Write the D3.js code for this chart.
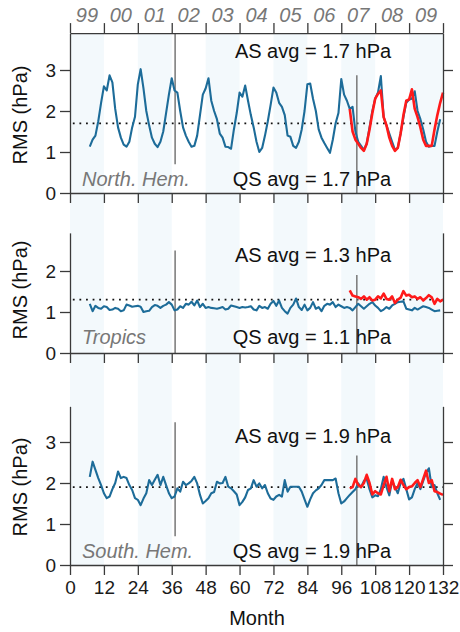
<!DOCTYPE html>
<html><head><meta charset="utf-8">
<script src="https://cdn.jsdelivr.net/npm/d3@7"></script>
<style>
body{margin:0;background:#fff}
svg{display:block;font-family:"Liberation Sans",Arial,Helvetica,sans-serif}
</style>
</head><body>
<svg id="chart" width="460" height="632"></svg>
<script>
// ---------------- data ----------------
const yearLabels = ["99","00","01","02","03","04","05","06","07","08","09"];
const monthTicks = [0,12,24,36,48,60,72,84,96,108,120,132];
const shadedYearIdx = [0,2,4,6,8,10];
const panelNames = ["North. Hem.","Tropics","South. Hem."];
const panelYMax = [3.9, 2.93, 3.87];
const panelYTicks = [[0,1,2,3],[0,1,2],[0,1,2,3]];
const asAvg = [1.7, 1.3, 1.9];
const qsAvg = [1.7, 1.1, 1.9];
const qsStartMonth = 7;
const asStartMonth = 99;
const markerMonths = [37.2, 101.5];
const markerExtents = [
  [[0.7, 3.9], [0, 2.87]],
  [[0, 2.5], [0, 1.9]],
  [[0.7, 3.48], [0, 2.67]]
];

// QS series (blue), months 7..131
const nhQS = [
  1.13,1.30,1.40,1.75,2.20,2.60,2.50,2.87,2.70,2.05,
  1.60,1.35,1.18,1.13,1.25,1.60,1.86,2.65,3.02,2.55,
  2.00,1.65,1.35,1.20,1.12,1.25,1.50,1.95,2.40,2.80,
  2.50,2.45,2.00,1.60,1.40,1.25,1.13,1.15,1.40,1.90,
  2.40,2.55,2.80,2.25,2.00,1.80,1.45,1.35,1.13,1.12,
  1.08,1.55,1.95,2.45,2.35,2.62,2.25,1.90,1.60,1.25,
  1.00,1.10,1.40,1.75,2.15,2.57,2.45,2.20,2.10,1.90,
  1.40,1.37,1.15,1.10,1.25,1.55,2.00,2.65,2.67,2.30,
  2.00,1.55,1.35,1.22,1.10,0.98,1.30,1.70,1.95,2.78,
  2.40,2.25,2.05,2.10,1.50,1.25,1.15,1.05,1.20,1.60,
  2.00,2.30,2.45,2.85,1.85,1.65,1.45,1.25,1.05,1.10,
  1.45,1.85,2.20,2.28,2.30,2.48,2.00,1.80,1.55,1.25,
  1.13,1.15,1.15,1.50,1.80
];
const trQS = [
  1.20,1.02,1.15,1.10,1.08,1.14,1.12,1.05,1.06,1.10,
  1.08,1.02,1.04,1.18,1.16,1.13,1.14,1.15,1.13,1.00,
  1.02,1.03,1.12,1.17,1.15,1.10,1.15,1.18,1.24,1.18,
  1.04,1.06,1.14,1.10,1.20,1.18,1.25,1.16,1.28,1.12,
  1.20,1.10,1.12,1.10,1.09,1.08,1.10,1.12,1.06,1.08,
  1.16,1.14,1.12,1.10,1.12,1.11,1.12,1.14,1.06,1.04,
  1.15,1.10,1.12,1.08,1.20,1.27,1.15,1.28,1.10,1.02,
  0.96,1.10,1.18,1.33,1.12,1.05,1.18,1.04,1.10,1.24,
  1.08,1.12,1.02,1.15,1.20,1.18,1.24,1.12,1.18,1.14,
  1.10,1.12,1.10,1.04,1.12,1.20,1.14,1.08,1.14,1.20,
  1.24,1.16,1.10,1.02,1.06,1.12,1.08,1.16,1.20,1.24,
  1.25,1.26,1.08,1.06,1.04,1.10,1.06,1.10,1.14,1.12,
  1.10,1.06,1.02,1.03,1.04
];
const shQS = [
  2.15,2.52,2.32,2.12,1.95,1.75,1.63,1.67,1.85,2.00,
  2.28,2.12,2.15,2.12,1.95,1.83,1.63,1.59,1.46,1.62,
  1.75,2.07,1.95,2.08,2.20,1.95,2.15,1.95,1.75,1.63,
  1.67,1.87,1.79,2.03,1.95,1.99,2.05,2.15,1.99,1.71,
  1.50,1.56,1.63,1.75,1.78,2.03,1.99,2.00,2.15,1.91,
  1.87,1.80,1.72,1.46,1.54,1.65,1.83,1.87,2.07,1.91,
  1.99,1.87,1.95,1.75,1.62,1.59,1.67,1.71,1.67,2.07,
  1.79,1.91,1.91,1.91,1.91,1.79,1.60,1.42,1.60,1.75,
  1.82,1.87,1.95,2.07,2.07,2.07,2.07,2.11,1.75,1.50,
  1.55,1.63,1.71,1.78,1.85,1.99,1.90,2.05,2.10,1.85,
  1.65,1.70,1.68,1.85,2.15,1.90,1.70,2.05,1.90,1.75,
  2.00,2.10,1.85,1.60,1.65,1.85,2.00,1.85,2.05,2.25,
  2.36,1.90,1.95,1.75,1.59
];
// AS series (red), months 99..132
const nhAS = [
  2.05,1.50,1.30,1.20,1.10,1.03,1.20,1.55,1.95,2.30,
  2.42,2.50,1.85,1.65,1.35,1.15,1.03,1.10,1.45,1.90,
  2.25,2.28,2.53,2.05,1.85,1.60,1.30,1.15,1.15,1.15,
  1.55,1.90,2.20,2.45
];
const trAS = [
  1.53,1.40,1.38,1.36,1.32,1.38,1.30,1.36,1.28,1.30,
  1.38,1.33,1.45,1.32,1.30,1.38,1.22,1.30,1.35,1.51,
  1.40,1.42,1.36,1.38,1.32,1.36,1.28,1.34,1.41,1.36,
  1.20,1.32,1.26,1.30
];
const shAS = [
  1.87,1.90,2.10,1.95,1.90,2.00,2.20,2.00,1.72,1.80,
  1.75,1.72,1.95,2.15,1.80,2.10,1.85,1.90,2.08,1.95,
  1.85,1.90,1.92,2.00,2.07,1.90,2.10,2.30,2.00,2.07,
  1.80,1.78,1.74,1.71
];
const qsSeries = [nhQS, trQS, shQS];
const asSeries = [nhAS, trAS, shAS];

// ---------------- layout ----------------
const svg = d3.select("#chart");
const panelBottom = [193, 353, 565];
const pxPerUnit = 41;
const bandTop = 33, bandBottom = 565;
const x = d3.scaleLinear().domain([0, 132]).range([70, 443]);
const blue = "#1d6c99", red = "#ff1a1a", axisCol = "#3a3a3a", grayTxt = "#777";

// background bands
svg.append("g").selectAll("rect").data(shadedYearIdx).join("rect")
  .attr("x", d => x(d * 12)).attr("width", x(12) - x(0))
  .attr("y", bandTop).attr("height", bandBottom - bandTop)
  .attr("fill", "#f3f9fc");

const asBase = [58, 262, 443];
const qsBase = [186, 344, 558];
const rmsCenter = [115, 290, 487];

panelNames.forEach((name, p) => {
  const bottom = panelBottom[p];
  const top = bottom - panelYMax[p] * pxPerUnit;
  const y = d3.scaleLinear().domain([0, panelYMax[p]]).range([bottom, top]);
  const g = svg.append("g");

  // dotted AS-average line
  g.append("line")
    .attr("x1", x(1)).attr("x2", x(132))
    .attr("y1", y(asAvg[p])).attr("y2", y(asAvg[p]))
    .attr("stroke", "#111").attr("stroke-width", 1.8)
    .attr("stroke-dasharray", "1.8,4.8");

  // marker lines
  markerMonths.forEach((m, i) => {
    const ext = markerExtents[p][i];
    g.append("line")
      .attr("x1", x(m)).attr("x2", x(m))
      .attr("y1", y(ext[0])).attr("y2", y(ext[1]))
      .attr("stroke", "#808080").attr("stroke-width", 1.6);
  });

  // series
  const line = d3.line().x(d => x(d.m)).y(d => y(d.v));
  const qs = qsSeries[p].map((v, i) => ({m: qsStartMonth + i, v}));
  const as = asSeries[p].map((v, i) => ({m: asStartMonth + i, v}));
  g.append("path").datum(qs).attr("d", line)
    .attr("fill", "none").attr("stroke", blue).attr("stroke-width", 2.1)
    .attr("stroke-linejoin", "round");
  g.append("path").datum(as).attr("d", line)
    .attr("fill", "none").attr("stroke", red).attr("stroke-width", 2.6)
    .attr("stroke-linejoin", "round");

  // axes
  const left = g.append("g").attr("transform", `translate(${x(0)},0)`)
    .call(d3.axisLeft(y).tickValues(panelYTicks[p]).tickSize(10).tickSizeOuter(0).tickPadding(4)
      .tickFormat(d3.format("d")));
  const right = g.append("g").attr("transform", `translate(${x(132)},0)`)
    .call(d3.axisRight(y).tickValues(panelYTicks[p]).tickSize(10).tickSizeOuter(0).tickFormat(""));
  const bot = g.append("g").attr("transform", `translate(0,${bottom})`)
    .call(d3.axisBottom(x).tickValues(monthTicks).tickSize(10).tickSizeOuter(0).tickPadding(6)
      .tickFormat(p === 2 ? d3.format("d") : ""));
  [left, right, bot].forEach(a => {
    a.selectAll("path,line").attr("stroke", axisCol).attr("stroke-width", 1.3);
    a.selectAll("text").attr("fill", "#1a1a1a").style("font-size", "19px")
      .style("font-family", "'Liberation Sans',Arial,sans-serif");
  });

  if (p === 0) {
    const topAx = g.append("g").attr("transform", `translate(0,${top})`)
      .call(d3.axisTop(x).tickValues(monthTicks).tickSize(10).tickSizeOuter(0).tickFormat(""));
    topAx.selectAll("path,line").attr("stroke", axisCol).attr("stroke-width", 1.3);
    g.selectAll("text.year").data(yearLabels).join("text")
      .attr("class", "year")
      .attr("x", (d, i) => x(i * 12 + 6)).attr("y", 22)
      .attr("text-anchor", "middle").attr("fill", grayTxt)
      .style("font-size", "20px").style("font-style", "italic")
      .text(d => d);
  }

  // texts
  g.append("text").attr("x", 313).attr("y", asBase[p]).attr("text-anchor", "middle")
    .attr("fill", "#111").style("font-size", "20px")
    .text(`AS avg = ${asAvg[p].toFixed(1)} hPa`);
  g.append("text").attr("x", 312).attr("y", qsBase[p]).attr("text-anchor", "middle")
    .attr("fill", "#111").style("font-size", "20px")
    .text(`QS avg = ${qsAvg[p].toFixed(1)} hPa`);
  g.append("text").attr("x", 82).attr("y", qsBase[p])
    .attr("fill", grayTxt).style("font-size", "20px").style("font-style", "italic")
    .text(name);
  g.append("text")
    .attr("transform", `translate(27,${rmsCenter[p]}) rotate(-90)`)
    .attr("text-anchor", "middle").attr("fill", "#111").style("font-size", "20px")
    .text("RMS (hPa)");
});

svg.append("text").attr("x", 257).attr("y", 625).attr("text-anchor", "middle")
  .attr("fill", "#111").style("font-size", "20px").text("Month");
</script>
</body></html>
